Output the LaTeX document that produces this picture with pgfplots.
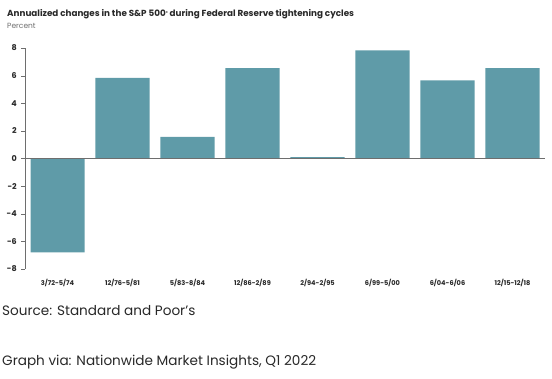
\documentclass[border=0pt]{standalone}
\usepackage{pgfplots}
\pgfplotsset{compat=1.18}
\usepackage{fontspec}
\setmainfont{Poppins}
\definecolor{barc}{RGB}{95,155,168}
\definecolor{txt}{RGB}{40,40,40}
\definecolor{axc}{RGB}{110,110,110}
\begin{document}
\begin{tikzpicture}
\useasboundingbox (0pt,0pt) rectangle (552pt,379pt);
\node[anchor=base west, inner sep=0pt, text=txt, font=\bfseries\fontsize{8.8}{10}\selectfont] at (7pt,362pt) {Annualized changes in the S\&P 500\raisebox{0.6ex}{\fontsize{4}{4}\selectfont ®} during Federal Reserve tightening cycles};
\node[anchor=base west, inner sep=0pt, text=axc, font=\fontsize{7.5}{9}\selectfont] at (7pt,350pt) {Percent};
\begin{axis}[
  at={(25pt,110pt)}, anchor=south west,
  scale only axis, width=520pt, height=221pt,
  xmin=-0.5, xmax=7.5, ymin=-8, ymax=8,
  axis lines*=left,
  axis line style={-, draw=axc},
  x axis line style={draw=none},
  xtick={0,...,7},
  xticklabels={3/72-5/74,12/76-5/81,5/83-8/84,12/86-2/89,2/94-2/95,6/99-5/00,6/04-6/06,12/15-12/18},
  xtick style={draw=none},
  xticklabel style={anchor=base, yshift=-13pt, inner sep=0pt, text=txt, font=\bfseries\fontsize{6.6}{7.5}\selectfont},
  ytick={-8,-6,...,8},
  yticklabels={-8,-6,-4,-2,0,2,4,6,8},
  ytick style={draw=axc},
  tick align=outside, major tick length=4pt,
  yticklabel style={inner sep=0pt, xshift=-4pt, text=txt, font=\bfseries\fontsize{8}{9}\selectfont},
  clip=false,
]
\addplot[ybar, bar width=54pt, fill=barc, draw=none] coordinates {(0,-6.8) (1,5.84) (2,1.57) (3,6.54) (4,0.1) (5,7.83) (6,5.65) (7,6.54)};
\draw[axc, line width=0.6pt] (axis cs:-0.5,0) -- (axis cs:7.5,0);
\end{axis}
\node[anchor=base west, inner sep=0pt, text=txt, font=\fontsize{13.6}{15}\selectfont] at (2pt,63pt) {Source: Standard and Poor’s};
\node[anchor=base west, inner sep=0pt, text=txt, font=\fontsize{13.6}{15}\selectfont] at (2pt,13pt) {Graph via: Nationwide Market Insights, Q1 2022};
\end{tikzpicture}
\end{document}
